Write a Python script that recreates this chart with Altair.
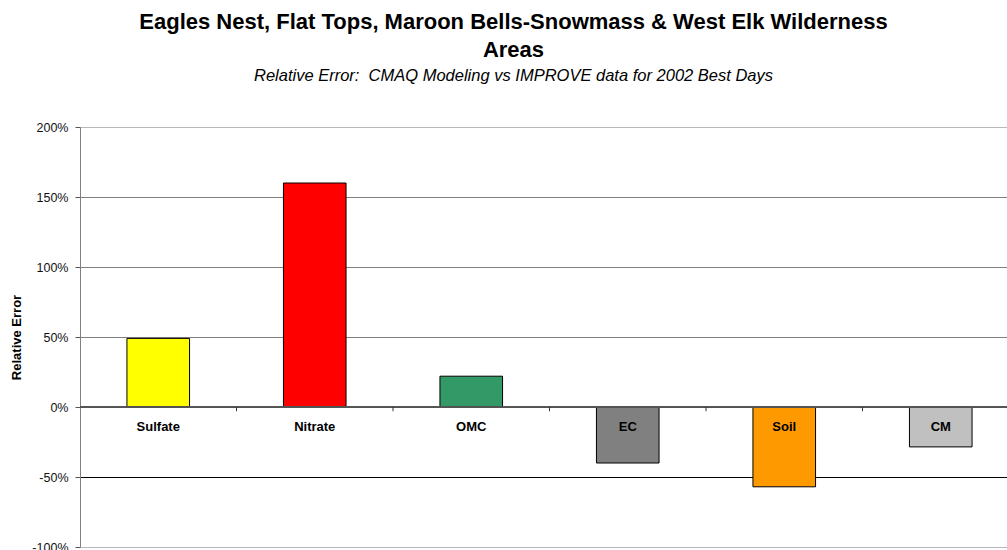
import altair as alt
import pandas as pd

# Species and their relative error (CMAQ vs IMPROVE, 2002 best days)
species = ["Sulfate", "Nitrate", "OMC", "EC", "Soil", "CM"]
rel_error = [0.49, 1.60, 0.22, -0.40, -0.57, -0.285]
bar_colors = ["#FFFF00", "#FF0000", "#339966", "#808080", "#FF9900", "#C0C0C0"]

y_ticks = [-1.0, -0.5, 0.0, 0.5, 1.0, 1.5, 2.0]

df = pd.DataFrame({"species": species, "err": rel_error, "color": bar_colors})

FONT = "Liberation Sans"

x_enc = alt.X(
    "species:N",
    sort=species,
    axis=None,
    scale=alt.Scale(range=[0, 939], paddingInner=0, paddingOuter=0),
)

y_scale = alt.Scale(domain=[-1.0, 2.0], nice=False)

grid_color = {
    "condition": [
        {"test": "datum.value == -0.5", "value": "#000000"},
        {"test": "datum.value == 2 || datum.value == -1", "value": "#b8b8b8"},
    ],
    "value": "#808080",
}

bars = (
    alt.Chart(df)
    .mark_bar(width={"band": 0.4}, stroke="black", strokeWidth=1)
    .encode(
        x=x_enc,
        y=alt.Y(
            "err:Q",
            scale=y_scale,
            axis=alt.Axis(
                values=y_ticks,
                labelExpr="replace(format(datum.value, '.0%'), '\u2212', '-')",
                title="Relative Error",
                titleFont=FONT,
                titleFontSize=13,
                titleFontWeight="bold",
                titleColor="black",
                titlePadding=8,
                labelFont=FONT,
                labelFontSize=12.5,
                labelColor="#111111",
                labelPadding=7,
                tickSize=5,
                tickColor="#555555",
                domainColor="#808080",
                grid=True,
                gridColor=grid_color,
                gridWidth=1,
            ),
        ),
        color=alt.Color("color:N", scale=None),
    )
)

# Category axis line drawn along zero
zero_line = (
    alt.Chart(df)
    .mark_rule(color="#555555", strokeWidth=1)
    .encode(y=alt.Y(datum=0, scale=y_scale))
)

# Small ticks marking the boundaries between categories
boundary_ticks = (
    alt.Chart(df.iloc[1:])
    .mark_rule(color="#333333", strokeWidth=1)
    .encode(
        x=alt.X("species:N", sort=species, bandPosition=0),
        y=alt.Y(datum=0, scale=y_scale),
        y2=alt.Y2(datum=-0.03),
    )
)

labels = (
    alt.Chart(df)
    .mark_text(font=FONT, fontSize=13, fontWeight="bold", color="black", dy=20, baseline="middle")
    .encode(
        x=alt.X("species:N", sort=species),
        y=alt.Y(datum=0, scale=y_scale),
        text="species:N",
    )
)

chart = (
    alt.layer(bars, zero_line, boundary_ticks, labels)
    .properties(
        width=927,
        height=420,
        autosize=alt.AutoSizeParams(type="none"),
        padding={"left": 80, "top": 127, "right": 0, "bottom": 3},
        title=alt.TitleParams(
            text=[
                "Eagles Nest, Flat Tops, Maroon Bells-Snowmass & West Elk Wilderness",
                "Areas",
            ],
            subtitle="Relative Error:\u00a0 CMAQ Modeling vs IMPROVE data for 2002 Best Days",
            font=FONT,
            fontSize=22,
            fontWeight="bold",
            color="black",
            lineHeight=28,
            subtitleFont=FONT,
            subtitleFontSize=16.5,
            subtitleFontStyle="italic",
            subtitleColor="black",
            subtitlePadding=6,
            anchor="middle",
            dx=-30,
            offset=36,
        ),
    )
    .configure_view(stroke=None)
    .configure(background="white")
)

chart.save("out.html", embed_options={"renderer": "svg", "actions": False})
